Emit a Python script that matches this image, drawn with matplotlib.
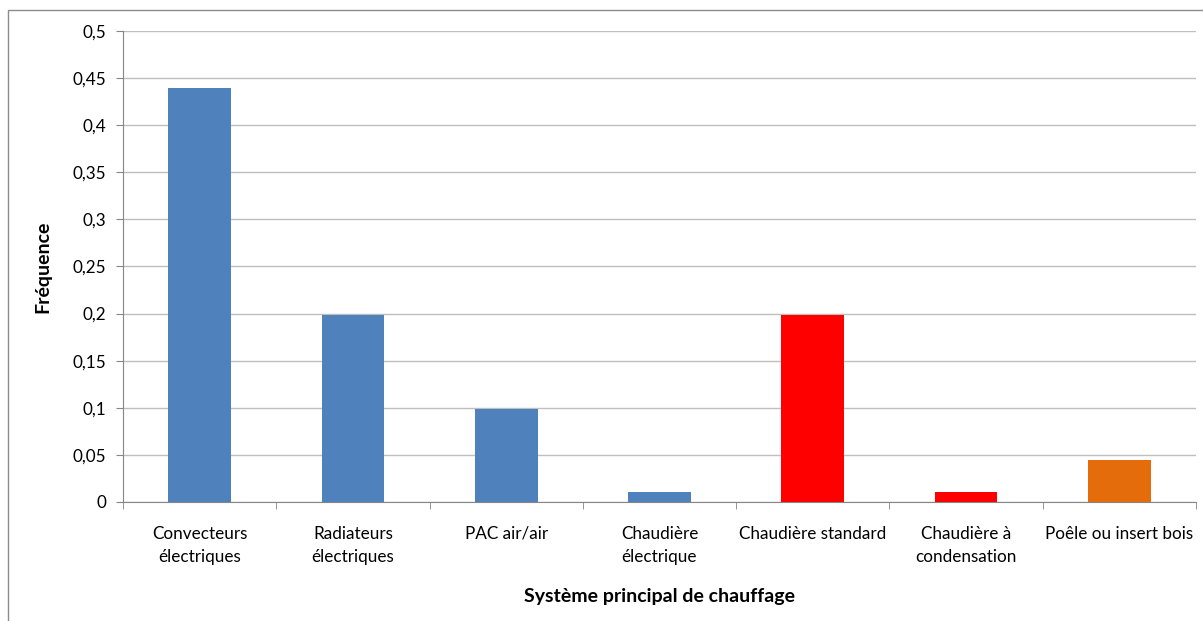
import matplotlib.pyplot as plt
from matplotlib.ticker import FuncFormatter, MultipleLocator, FixedLocator
from matplotlib.patches import Rectangle
import numpy as np

categories = ["Convecteurs\nélectriques", "Radiateurs\nélectriques", "PAC air/air",
              "Chaudière\nélectrique", "Chaudière standard", "Chaudière à\ncondensation",
              "Poêle ou insert bois"]
frequences = [0.44, 0.198, 0.099, 0.0105, 0.1985, 0.0105, 0.0445]
couleurs = ["#4F81BD", "#4F81BD", "#4F81BD", "#4F81BD", "#FF0000", "#FF0000", "#E46C0A"]

plt.rcParams['font.family'] = ['Lato', 'DejaVu Sans']

fig = plt.figure(figsize=(12.03, 6.21), dpi=100)
ax = fig.add_axes([123 / 1203, 1 - 502 / 621, (1196 - 123) / 1203, (502 - 31) / 621])

# cadre exterieur
fig.patches.append(Rectangle((8 / 1203, -0.1), 1.2, 1 - 10 / 621 + 0.1,
                             transform=fig.transFigure, fill=False,
                             edgecolor="#8C8C8C", linewidth=1))

x = np.arange(len(categories))
ax.bar(x, frequences, width=0.41, color=couleurs, zorder=3)

ax.set_xlim(-0.5, len(categories) - 0.5)
ax.set_ylim(0, 0.5)
ax.yaxis.set_major_locator(MultipleLocator(0.05))
ax.yaxis.set_major_formatter(FuncFormatter(lambda v, p: ("%g" % round(v, 2)).replace(".", ",")))
ax.grid(axis="y", color="#BFBFBF", linewidth=1, zorder=0)

ax.set_xticks(x)
ax.set_xticklabels(categories, fontsize=12.3, linespacing=1.6)
ax.tick_params(axis="x", length=0, pad=17)
ax.xaxis.set_minor_locator(FixedLocator(np.arange(-0.5, len(categories), 1)))
ax.tick_params(axis="x", which="minor", length=5, color="#868686")
ax.tick_params(axis="y", length=5, color="#868686", labelsize=12.3, pad=7)

for s in ["top", "right"]:
    ax.spines[s].set_visible(False)
for s in ["left", "bottom"]:
    ax.spines[s].set_color("#868686")

ax.set_ylabel("Fréquence", fontsize=14, fontweight="bold", labelpad=15)
ax.set_xlabel("Système principal de chauffage", fontsize=14, fontweight="bold", labelpad=16)

plt.savefig("out.png", dpi=100)
